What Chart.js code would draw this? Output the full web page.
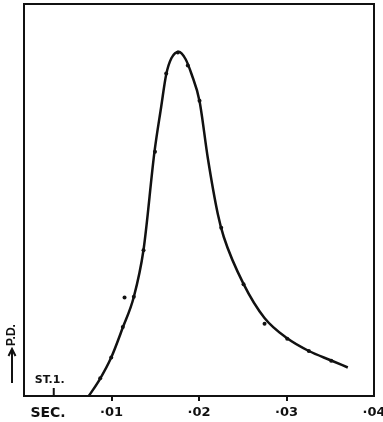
<!DOCTYPE html>
<html>
<head>
<meta charset="utf-8">
<script src="https://cdn.jsdelivr.net/npm/chart.js@4.4.1/dist/chart.umd.min.js"></script>
<style>
  html, body { margin: 0; padding: 0; background: #fff; }
  #wrap { width: 383px; height: 422px; }
</style>
</head>
<body>
<div id="wrap"><canvas id="pdChart" width="383" height="422"></canvas></div>
<script>
// Curva trazada (tiempo en segundos, P.D. en unidades relativas)
const curveTime = [0.007406, 0.008709, 0.009966, 0.011291, 0.012549, 0.013657, 0.014914, 0.015680,
                   0.016251, 0.016857, 0.017691, 0.018457, 0.019143, 0.020057, 0.021006, 0.022149,
                   0.022834, 0.025086, 0.027486, 0.030080, 0.032549, 0.035109, 0.037006];
const curvePD = [0, 4.46, 9.82, 17.47, 25.26, 37.24, 62.32, 73.80,
                 82.02, 86.22, 87.83, 85.97, 82.14, 75.26, 60.71, 46.43,
                 40.56, 28.6, 19.9, 14.72, 11.48, 9.06, 7.27];

// Puntos medidos
const dotTime = [0.00871, 0.00997, 0.01129, 0.01149, 0.01255, 0.01366, 0.01497, 0.01625, 0.01758, 0.01872,
                 0.02006, 0.02254, 0.02509, 0.02749, 0.03008, 0.03255, 0.03511];
const dotPD = [4.5, 9.8, 17.6, 25.1, 25.3, 37.2, 62.3, 82.3, 87.6, 84.3,
               75.3, 42.9, 28.5, 18.4, 14.6, 11.5, 9.0];

// Eje de tiempo
const tickValues = [0, 0.01, 0.02, 0.03, 0.04];
const tickLabels = ['', '·01', '·02', '·03', '·04'];
const stimulusTime = 0.0034;
const stimulusLabel = 'ST.1.';
const timeUnitLabel = 'SEC.';
const yTitle = 'P.D.';

const ink = '#111';

const framePlugin = {
    id: 'frame',
    afterDraw(chart) {
        const { ctx, chartArea: a, scales } = chart;
        ctx.save();
        ctx.strokeStyle = ink;
        ctx.lineWidth = 2;
        ctx.strokeRect(a.left, a.top, a.right - a.left, a.bottom - a.top);

        // marca del estímulo
        const sx = scales.x.getPixelForValue(stimulusTime);
        ctx.beginPath();
        ctx.moveTo(sx, a.bottom);
        ctx.lineTo(sx, a.bottom - 8);
        ctx.stroke();

        ctx.fillStyle = ink;
        ctx.textAlign = 'center';
        ctx.textBaseline = 'middle';
        ctx.font = 'bold 11px "DejaVu Sans", sans-serif';
        ctx.fillText(stimulusLabel, sx - 4, a.bottom - 16);
        ctx.font = 'bold 14px "DejaVu Sans", sans-serif';
        ctx.fillText(timeUnitLabel, 48, 413);

        // flecha vertical
        ctx.beginPath();
        ctx.moveTo(12, a.bottom - 13);
        ctx.lineTo(12, a.bottom - 47);
        ctx.moveTo(8.5, a.bottom - 40);
        ctx.lineTo(12, a.bottom - 47);
        ctx.lineTo(15.5, a.bottom - 40);
        ctx.stroke();

        // título vertical
        ctx.translate(12, a.bottom - 61);
        ctx.rotate(-Math.PI / 2);
        ctx.font = 'bold 12px "Liberation Sans", Arial, sans-serif';
        ctx.fillText(yTitle, 0, 0);
        ctx.restore();
    }
};

new Chart(document.getElementById('pdChart'), {
    type: 'scatter',
    data: {
        datasets: [{
            type: 'line',
            data: curveTime.map((t, i) => ({ x: t, y: curvePD[i] })),
            borderColor: ink,
            borderWidth: 2.5,
            pointRadius: 0,
            cubicInterpolationMode: 'monotone',
            fill: false
        }, {
            data: dotTime.map((t, i) => ({ x: t, y: dotPD[i] })),
            backgroundColor: ink,
            borderColor: ink,
            pointRadius: 2,
            borderWidth: 0
        }]
    },
    options: {
        responsive: false,
        animation: false,
        layout: { padding: { top: 4, right: 0, left: 0, bottom: 0 } },
        plugins: {
            legend: { display: false },
            tooltip: { enabled: false }
        },
        scales: {
            x: {
                type: 'linear',
                min: 0,
                max: 0.04,
                afterFit(scale) {
                    scale.height = 26;
                    scale.paddingLeft = 0;
                    scale.paddingRight = 9;
                },
                afterBuildTicks(scale) { scale.ticks = tickValues.map(v => ({ value: v })); },
                border: { display: true, color: ink, width: 2 },
                grid: {
                    drawOnChartArea: false,
                    drawTicks: true,
                    tickLength: 5,
                    lineWidth: 2,
                    color: c => (c.tick && (c.tick.value === 0 || c.tick.value === 0.04)) ? 'rgba(0,0,0,0)' : ink
                },
                ticks: {
                    autoSkip: false,
                    maxRotation: 0,
                    padding: 4,
                    color: ink,
                    font: { family: '"DejaVu Sans", sans-serif', size: 13, weight: 'bold' },
                    callback: (v, i) => tickLabels[i]
                }
            },
            y: {
                min: 0,
                max: 100,
                afterFit(scale) { scale.width = 24; },
                border: { display: true, color: ink, width: 2 },
                grid: { display: false },
                ticks: { display: false }
            }
        }
    },
    plugins: [framePlugin]
});
</script>
</body>
</html>
